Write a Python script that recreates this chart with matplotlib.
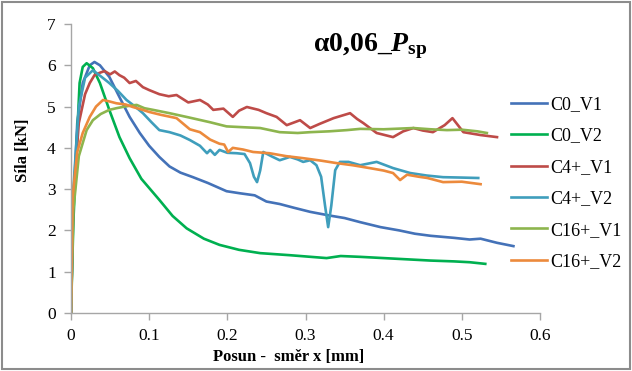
import matplotlib
matplotlib.use("Agg")
import matplotlib.pyplot as plt
from matplotlib.patches import Rectangle

plt.rcParams["font.family"] = ["Liberation Serif", "DejaVu Serif"]
plt.rcParams["mathtext.fontset"] = "custom"
plt.rcParams["mathtext.rm"] = "Liberation Serif:bold"
plt.rcParams["mathtext.bf"] = "Liberation Serif:bold"
plt.rcParams["mathtext.it"] = "Liberation Serif:bold:italic"

# Force–displacement curves (x: displacement in mm, y: force in kN)
c0_v1_x = [0, 0.003, 0.008, 0.015, 0.024, 0.030, 0.037, 0.049, 0.062, 0.075, 0.088, 0.100,
           0.113, 0.126, 0.140, 0.156, 0.175, 0.199, 0.216, 0.235, 0.250, 0.267, 0.285,
           0.306, 0.331, 0.350, 0.370, 0.396, 0.420, 0.440, 0.460, 0.490, 0.510, 0.524,
           0.545, 0.566]
c0_v1_y = [0, 2.6, 4.6, 5.57, 6.00, 6.08, 6.00, 5.72, 5.23, 4.75, 4.36, 4.05,
           3.78, 3.55, 3.40, 3.29, 3.15, 2.95, 2.90, 2.85, 2.70, 2.64, 2.55,
           2.45, 2.36, 2.30, 2.20, 2.08, 2.00, 1.92, 1.87, 1.82, 1.78, 1.80,
           1.70, 1.62]

c0_v2_x = [0, 0.003, 0.007, 0.011, 0.015, 0.020, 0.028, 0.037, 0.049, 0.062, 0.075, 0.090,
           0.113, 0.130, 0.148, 0.170, 0.190, 0.215, 0.242, 0.280, 0.327, 0.345, 0.370,
           0.400, 0.430, 0.460, 0.490, 0.510, 0.530]
c0_v2_y = [0, 2.2, 3.95, 5.57, 5.96, 6.05, 5.93, 5.57, 4.92, 4.26, 3.75, 3.25,
           2.74, 2.35, 2.05, 1.80, 1.65, 1.53, 1.45, 1.40, 1.33, 1.38, 1.36,
           1.33, 1.30, 1.27, 1.25, 1.23, 1.19]

c4_v1_x = [0, 0.003, 0.010, 0.018, 0.024, 0.030, 0.037, 0.043, 0.050, 0.056, 0.062, 0.068,
           0.075, 0.083, 0.092, 0.100, 0.113, 0.125, 0.135, 0.150, 0.165, 0.175, 0.182,
           0.195, 0.207, 0.215, 0.225, 0.240, 0.250, 0.263, 0.276, 0.286, 0.293, 0.306,
           0.318, 0.336, 0.350, 0.357, 0.366, 0.374, 0.391, 0.412, 0.425, 0.438, 0.450,
           0.463, 0.478, 0.488, 0.502, 0.524, 0.545]
c4_v1_y = [0, 2.8, 4.6, 5.30, 5.57, 5.76, 5.82, 5.86, 5.78, 5.85, 5.76, 5.70,
           5.57, 5.62, 5.47, 5.40, 5.30, 5.25, 5.28, 5.10, 5.16, 5.05, 4.92,
           4.95, 4.75, 4.90, 4.99, 4.92, 4.84, 4.75, 4.55, 4.62, 4.67, 4.48,
           4.58, 4.72, 4.80, 4.84, 4.70, 4.60, 4.36, 4.26, 4.40, 4.48, 4.42,
           4.38, 4.55, 4.72, 4.38, 4.31, 4.26]

c4_v2_x = [0, 0.003, 0.010, 0.018, 0.028, 0.037, 0.049, 0.060, 0.071, 0.082, 0.092, 0.103,
           0.113, 0.126, 0.140, 0.152, 0.165, 0.174, 0.178, 0.184, 0.190, 0.200, 0.212,
           0.222, 0.229, 0.234, 0.238, 0.242, 0.246, 0.256, 0.267, 0.280, 0.290, 0.297,
           0.306, 0.314, 0.320, 0.325, 0.329, 0.333, 0.338, 0.344, 0.355, 0.370, 0.391,
           0.412, 0.434, 0.455, 0.476, 0.500, 0.521]
c4_v2_y = [0, 3.0, 5.0, 5.70, 5.88, 5.75, 5.57, 5.38, 5.16, 5.00, 4.84, 4.62,
           4.43, 4.38, 4.30, 4.19, 4.05, 3.87, 3.95, 3.83, 3.95, 3.88, 3.87,
           3.85, 3.63, 3.30, 3.17, 3.45, 3.90, 3.80, 3.70, 3.78, 3.72, 3.66,
           3.70, 3.58, 3.30, 2.60, 2.08, 2.60, 3.46, 3.66, 3.66, 3.58, 3.66,
           3.51, 3.39, 3.33, 3.29, 3.28, 3.27]

c16_v1_x = [0, 0.003, 0.010, 0.020, 0.028, 0.038, 0.049, 0.058, 0.066, 0.075, 0.084, 0.094,
            0.105, 0.126, 0.150, 0.178, 0.199, 0.220, 0.242, 0.267, 0.290, 0.306, 0.330,
            0.353, 0.370, 0.400, 0.438, 0.460, 0.481, 0.500, 0.520, 0.532]
c16_v1_y = [0, 2.5, 3.8, 4.43, 4.67, 4.82, 4.92, 4.96, 4.99, 5.02, 5.04, 4.96,
            4.92, 4.84, 4.74, 4.62, 4.52, 4.50, 4.48, 4.38, 4.36, 4.38, 4.40,
            4.43, 4.46, 4.45, 4.48, 4.45, 4.43, 4.44, 4.40, 4.36]

c16_v2_x = [0, 0.002, 0.008, 0.015, 0.024, 0.032, 0.041, 0.050, 0.058, 0.070, 0.079, 0.090,
            0.100, 0.115, 0.135, 0.152, 0.165, 0.178, 0.190, 0.196, 0.201, 0.207, 0.220,
            0.233, 0.254, 0.275, 0.297, 0.320, 0.340, 0.360, 0.382, 0.400, 0.412, 0.421,
            0.430, 0.445, 0.456, 0.476, 0.500, 0.524]
c16_v2_y = [0, 2.8, 3.9, 4.36, 4.75, 5.00, 5.16, 5.12, 5.08, 5.05, 4.99, 4.93,
            4.87, 4.80, 4.72, 4.45, 4.38, 4.20, 4.10, 4.08, 3.90, 4.00, 3.96,
            3.90, 3.87, 3.80, 3.75, 3.69, 3.63, 3.58, 3.51, 3.45, 3.39, 3.22,
            3.35, 3.30, 3.27, 3.17, 3.18, 3.12]

series = [
    ("C0_V1", c0_v1_x, c0_v1_y, "#4472B8"),
    ("C0_V2", c0_v2_x, c0_v2_y, "#00B050"),
    ("C4+_V1", c4_v1_x, c4_v1_y, "#BE4B48"),
    ("C4+_V2", c4_v2_x, c4_v2_y, "#3F9EBC"),
    ("C16+_V1", c16_v1_x, c16_v1_y, "#8DB54E"),
    ("C16+_V2", c16_v2_x, c16_v2_y, "#EC8A3C"),
]

x_ticks = [0, 0.1, 0.2, 0.3, 0.4, 0.5, 0.6]
x_tick_labels = ["0", "0.1", "0.2", "0.3", "0.4", "0.5", "0.6"]
y_ticks = [0, 1, 2, 3, 4, 5, 6, 7]

W, H, DPI = 632, 371, 100
fig = plt.figure(figsize=(W / DPI, H / DPI), dpi=DPI)
ax = fig.add_axes([71 / W, 1 - 313 / H, (540 - 71) / W, (313 - 24) / H])

for name, xs, ys, col in series:
    ax.plot(xs, ys, color=col, lw=1.9, label=name, solid_joinstyle="round")

ax.set_xlim(0, 0.6)
ax.set_ylim(0, 7)
ax.set_xticks(x_ticks)
ax.set_xticklabels(x_tick_labels)
ax.set_yticks(y_ticks)

spine_col = "#A6A6A6"
for side in ("top", "right"):
    ax.spines[side].set_visible(False)
for side in ("left", "bottom"):
    ax.spines[side].set_color(spine_col)
    ax.spines[side].set_linewidth(1.0)
ax.tick_params(direction="out", length=5, width=1.0, color=spine_col,
               labelsize=12.5, labelcolor="#000000", pad=6)

ax.set_xlabel("Posun -  směr x [mm]", fontsize=12, fontweight="bold")
ax.xaxis.set_label_coords(0.463, -0.125)
ax.set_ylabel("Síla [kN]", fontsize=12, fontweight="bold")
ax.yaxis.set_label_coords(-0.085, 0.564)

ax.text(0.638, 0.925, r"$\mathrm{α0{,}06\_}P_{\mathrm{sp}}$", transform=ax.transAxes,
        fontsize=20, ha="center", va="center")

leg = fig.legend(loc="upper left", bbox_to_anchor=(511 / W, 1 - 96 / H),
                 frameon=False, fontsize=13, handlelength=2.0, handletextpad=0.2,
                 labelspacing=0.8, borderaxespad=0, borderpad=0)

# outer frame around the chart area
fig.patches.append(Rectangle((2 / W, 2 / H), 1 - 4 / W, 1 - 4 / H, transform=fig.transFigure,
                             fill=False, edgecolor="#8C8C8C", linewidth=1.5))

fig.savefig("out.png", dpi=DPI)
